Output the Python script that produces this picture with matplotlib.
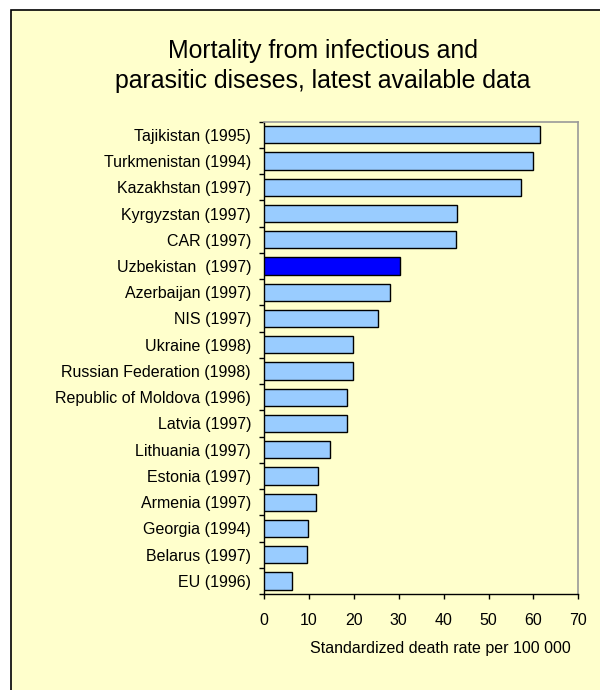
import matplotlib
matplotlib.use("Agg")
import matplotlib.pyplot as plt
from matplotlib.patches import Rectangle

countries = [
    "Tajikistan (1995)", "Turkmenistan (1994)", "Kazakhstan (1997)",
    "Kyrgyzstan (1997)", "CAR (1997)", "Uzbekistan  (1997)",
    "Azerbaijan (1997)", "NIS (1997)", "Ukraine (1998)",
    "Russian Federation (1998)", "Republic of Moldova (1996)",
    "Latvia (1997)", "Lithuania (1997)", "Estonia (1997)",
    "Armenia (1997)", "Georgia (1994)", "Belarus (1997)", "EU (1996)",
]
values = [61.5, 60.0, 57.2, 43.0, 42.8, 30.4, 28.1, 25.5, 19.8, 19.9,
          18.5, 18.4, 14.6, 12.1, 11.6, 9.7, 9.6, 6.2]
highlight = "Uzbekistan  (1997)"
xticks = [0, 10, 20, 30, 40, 50, 60, 70]

plt.rcParams['font.family'] = ['Liberation Sans', 'DejaVu Sans']

W, H = 600, 690
bg = "#FFFFCC"
fig = plt.figure(figsize=(W / 100, H / 100), dpi=100)
fig.patch.set_facecolor("white")

# background frame (extends beyond right/bottom edge)
bax = fig.add_axes([0, 0, 1, 1], zorder=-1)
bax.set_xlim(0, W)
bax.set_ylim(H, 0)
bax.axis("off")
bax.add_patch(Rectangle((11, 10), W + 50, H + 50, facecolor=bg,
                        edgecolor="black", linewidth=1.2))

ax = fig.add_axes([264 / W, 1 - 594 / H, (578.3 - 264) / W, (594 - 121.7) / H])
ax.set_facecolor(bg)

n = len(countries)
ypos = list(range(n))[::-1]
colors = ["#0000FF" if c == highlight else "#99CCFF" for c in countries]
ax.barh(ypos, values, height=0.66, color=colors, edgecolor="black", linewidth=1.0, zorder=3)

fs = 11.5
ax.set_xlim(0, 70)
ax.set_ylim(-0.5, n - 0.5)
ax.set_yticks(ypos)
ax.set_yticklabels(countries, fontsize=fs)
ax.set_yticks([i - 0.5 for i in range(n + 1)], minor=True)
ax.tick_params(axis="y", which="major", length=0, pad=9.3)
ax.tick_params(axis="y", which="minor", length=3.5, width=1, direction="out")
ax.set_xticks(xticks)
ax.set_xticklabels([str(t) for t in xticks], fontsize=fs)
ax.tick_params(axis="x", length=3.5, width=1, direction="out", pad=10.5)

for s in ["top", "right"]:
    ax.spines[s].set_color("#999999")
    ax.spines[s].set_linewidth(1.2)
for s in ["left", "bottom"]:
    ax.spines[s].set_color("black")
    ax.spines[s].set_linewidth(1.0)

fig.text(440 / W, 1 - 649 / H, "Standardized death rate per 100 000",
         ha="center", va="center", fontsize=fs)
fig.text(323 / W, 1 - 66 / H,
         "Mortality from infectious and\nparasitic diseses, latest available data",
         ha="center", va="center", fontsize=17.9, linespacing=1.28)

fig.savefig("out.png", dpi=100, facecolor=fig.get_facecolor())
